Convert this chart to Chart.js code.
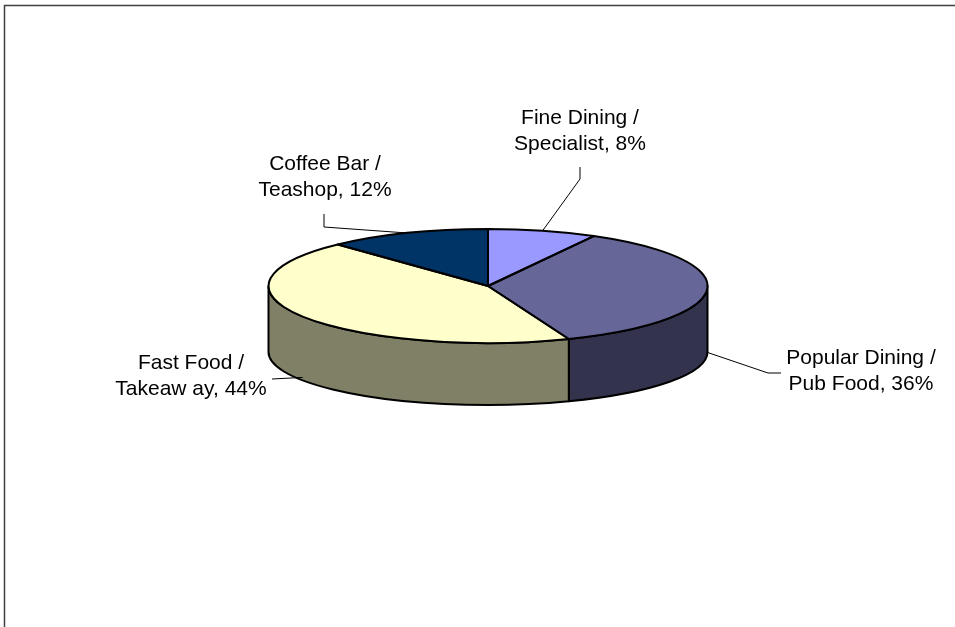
<!DOCTYPE html>
<html>
<head>
<meta charset="utf-8">
<title>Outlets by type</title>
<script src="https://cdn.jsdelivr.net/npm/chart.js@4.4.0/dist/chart.umd.min.js"></script>
<style>
  html, body { margin: 0; padding: 0; background: #fff; overflow: hidden; }
  #wrap { width: 955px; height: 627px; }
</style>
</head>
<body>
<div id="wrap"><canvas id="outletChart" width="955" height="627"></canvas></div>
<script>
const categories = ['Fine Dining / Specialist', 'Popular Dining / Pub Food', 'Fast Food / Takeaw ay', 'Coffee Bar / Teashop'];
const shares = [8, 36, 44, 12];
const topColors = ['#9999FF', '#666699', '#FFFFCC', '#003366'];
const sideColors = ['#4D4D80', '#33334D', '#808066', '#001A33'];

// top face ellipse and the bottom rim of the wall
const PIE = { cx: 488, cy: 286, rx: 219.5, ry: 57, bottomCy: 352, bottomRy: 53 };

// label block centres and leader elbows (same order as categories)
const labelLayout = [
    { x: 580, y: 131, path: [[580, 179], [580, 167]] },
    { x: 861, y: 371, path: [[768, 373], [781, 373]] },
    { x: 191, y: 376, path: [[272, 379]] },
    { x: 325, y: 177, path: [[324, 227], [324, 214]] },
];

const total = shares.reduce((a, b) => a + b, 0);

const pie3d = {
    id: 'pie3d',
    beforeDraw(chart) {
        const ctx = chart.ctx;
        ctx.save();
        ctx.fillStyle = '#fff';
        ctx.fillRect(0, 0, chart.width, chart.height);
        ctx.strokeStyle = '#404040';
        ctx.lineWidth = 1.5;
        ctx.strokeRect(4.5, 5.5, 1400, 1400);
        ctx.restore();
    },
    beforeDatasetsDraw(chart) {
        const ctx = chart.ctx;
        const arcs = chart.getDatasetMeta(0).data;
        ctx.save();
        ctx.lineWidth = 2;
        ctx.lineJoin = 'round';
        ctx.strokeStyle = '#000';
        // wall: only the half facing the viewer is visible
        arcs.forEach((arc, i) => {
            const a = Math.max(arc.startAngle, 0);
            const b = Math.min(arc.endAngle, Math.PI);
            if (a >= b) return;
            ctx.beginPath();
            ctx.ellipse(PIE.cx, PIE.cy, PIE.rx, PIE.ry, 0, a, b);
            ctx.ellipse(PIE.cx, PIE.bottomCy, PIE.rx, PIE.bottomRy, 0, b, a, true);
            ctx.closePath();
            ctx.fillStyle = sideColors[i];
            ctx.fill();
            ctx.stroke();
        });
        // squash the round pie onto the top ellipse
        const first = arcs[0];
        const r = first.outerRadius;
        ctx.translate(PIE.cx, PIE.cy);
        ctx.scale(PIE.rx / r, PIE.ry / r);
        ctx.translate(-first.x, -first.y);
    },
    afterDatasetsDraw(chart) {
        const ctx = chart.ctx;
        ctx.restore();
        const arcs = chart.getDatasetMeta(0).data;
        ctx.save();
        ctx.lineWidth = 2;
        ctx.lineJoin = 'round';
        ctx.strokeStyle = '#000';
        arcs.forEach(arc => {
            ctx.beginPath();
            ctx.moveTo(PIE.cx, PIE.cy);
            ctx.ellipse(PIE.cx, PIE.cy, PIE.rx, PIE.ry, 0, arc.startAngle, arc.endAngle);
            ctx.closePath();
            ctx.stroke();
        });
        ctx.restore();
    },
    afterDraw(chart) {
        const ctx = chart.ctx;
        const arcs = chart.getDatasetMeta(0).data;
        ctx.save();
        ctx.font = '21px "Liberation Sans", Arial, sans-serif';
        ctx.textAlign = 'center';
        ctx.textBaseline = 'middle';
        ctx.fillStyle = '#000';
        ctx.strokeStyle = '#000';
        ctx.lineWidth = 1;
        arcs.forEach((arc, i) => {
            const mid = (arc.startAngle + arc.endAngle) / 2;
            const front = Math.sin(mid) > 0;
            const ax = PIE.cx + PIE.rx * Math.cos(mid);
            const ay = front ? PIE.bottomCy + PIE.bottomRy * Math.sin(mid) - 3
                             : PIE.cy + PIE.ry * Math.sin(mid);
            const lay = labelLayout[i];
            ctx.beginPath();
            ctx.moveTo(ax, ay);
            lay.path.forEach(p => ctx.lineTo(p[0], p[1]));
            ctx.stroke();

            const parts = categories[i].split('/');
            const pct = Math.round(shares[i] / total * 100);
            const lines = [parts[0].trim() + ' /', parts[1].trim() + ', ' + pct + '%'];
            ctx.fillText(lines[0], lay.x, lay.y - 13);
            ctx.fillText(lines[1], lay.x, lay.y + 13);
        });
        ctx.restore();
    }
};

new Chart(document.getElementById('outletChart'), {
    type: 'pie',
    data: {
        labels: categories,
        datasets: [{
            data: shares,
            backgroundColor: topColors,
            borderWidth: 0,
            clip: false,
        }]
    },
    options: {
        responsive: false,
        animation: false,
        events: [],
        plugins: { legend: { display: false }, tooltip: { enabled: false } }
    },
    plugins: [pie3d]
});
</script>
</body>
</html>
